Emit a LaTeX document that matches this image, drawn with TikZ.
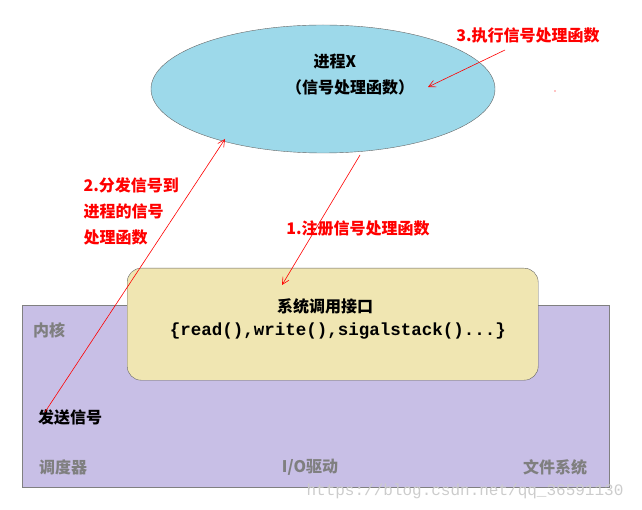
\documentclass[tikz,border=0pt]{standalone}
\usepackage{fontspec}
\setmainfont{Noto Sans CJK SC}
\newfontfamily\monof{Liberation Mono}
\usetikzlibrary{shapes.geometric,arrows.meta}
\definecolor{kern}{HTML}{C8BFE6}
\definecolor{boxc}{HTML}{F0E6B2}
\definecolor{ell}{HTML}{9DD9EA}
\definecolor{gtxt}{HTML}{7F7F7F}
\tikzset{
  redarr/.style={red, line width=0.6pt, -{Straight Barb[length=7pt,width=7pt]}},
  redtxt/.style={red, font=\fontsize{16}{26}\selectfont\bfseries, align=left},
  graytxt/.style={gtxt, font=\fontsize{16}{18}\selectfont\bfseries},
  blk/.style={font=\fontsize{16}{18}\selectfont\bfseries},
}
\begin{document}
\begin{tikzpicture}[x=1pt,y=-1pt]
\useasboundingbox (0,0) rectangle (642,510);
\node[draw=gray, fill=kern, minimum width=587pt, minimum height=182pt, inner sep=0, anchor=north west] (kernel) at (22,305) {};
\node[draw=gray!80!black, fill=boxc, rounded corners=14pt, minimum width=411pt, minimum height=112pt, inner sep=0, anchor=north west] (sys) at (127,268) {};
\node[draw=gray!80!black, fill=ell, ellipse, minimum width=344pt, minimum height=128pt, inner sep=0] (proc) at (323,89) {};
\node[blk] (pt1) at (335,62) {进程X};
\node[blk] (pt2) at (350,87) {（信号处理函数）};
\node[blk] (st1) at (325,306) {系统调用接口};
\node[font=\monof\fontsize{17.5}{20}\selectfont\bfseries] (st2) at (338,331) {\{read(),write(),sigalstack()...\}};
\node[graytxt] (nk) at (49,330) {内核};
\node[blk] (send) at (70,417) {发送信号};
\node[graytxt] (sch) at (63,467) {调度器};
\node[graytxt] (io) at (310,467) {I/O驱动};
\node[graytxt] (fs) at (555,467) {文件系统};
\node[gray!40, font=\monof\fontsize{16}{18}\selectfont] (wm) at (465,491) {https://blog.csdn.net/qq\_36591130};
\node[redtxt] (l3) at (528,35) {3.执行信号处理函数};
\node[redtxt, anchor=north west] (l2) at (80,174) {2.分发信号到\\进程的信号\\处理函数};
\node[redtxt] (l1) at (358,228) {1.注册信号处理函数};
\coordinate (a1s) at (360,155); \coordinate (a1e) at (282,285);
\coordinate (a2s) at (45,412); \coordinate (a2e) at (225,139);
\coordinate (a3s) at (505,50); \coordinate (a3e) at (428,87);
\draw[redarr] (a1s) -- (a1e);
\draw[redarr] (a2s) -- (a2e);
\draw[redarr] (a3s) -- (a3e);
\fill[red] (555,91) circle (0.7pt);
\end{tikzpicture}
\end{document}
